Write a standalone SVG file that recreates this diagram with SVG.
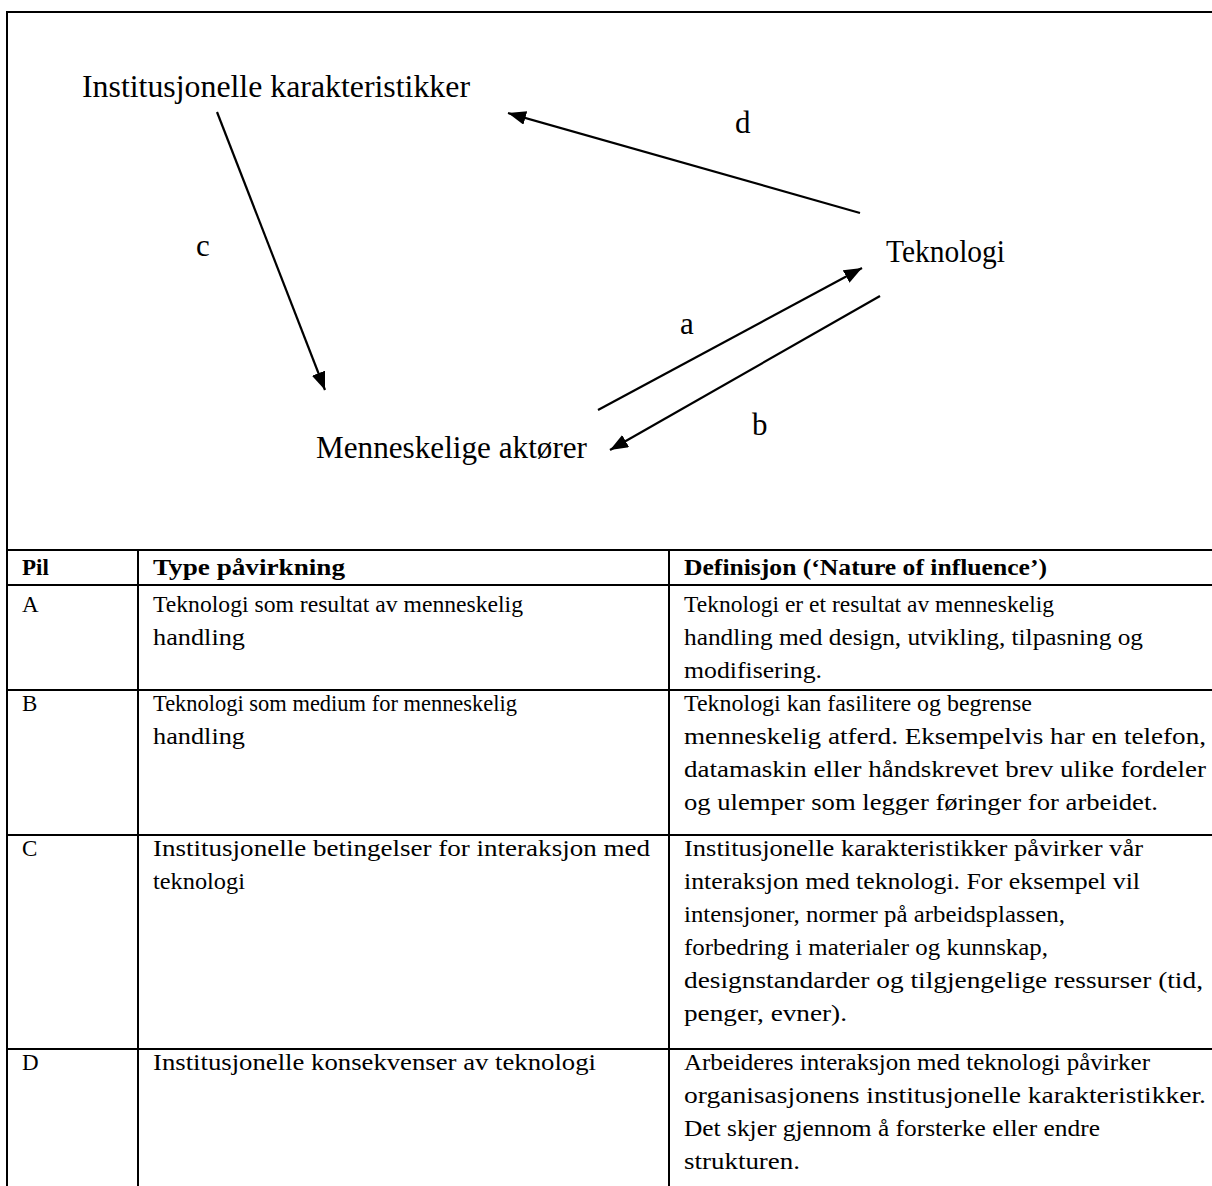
<svg xmlns="http://www.w3.org/2000/svg" width="1212" height="1186" viewBox="0 0 1212 1186">
<style>
.frame{stroke:#000;stroke-width:2;fill:none}
.grid{stroke:#000;stroke-width:2}
.lbl{font-family:"Liberation Serif","Times New Roman",serif;font-size:31px;fill:#000}
.ltr{font-family:"Liberation Serif","Times New Roman",serif;font-size:31px;fill:#000}
.cell{font-family:"Liberation Serif","Times New Roman",serif;font-size:23px;fill:#000}
.hd{font-weight:bold}
.conn{stroke:#000;stroke-width:2.2;fill:none;marker-end:url(#ah)}
</style>
<defs>
<marker id="ah" markerUnits="userSpaceOnUse" markerWidth="20" markerHeight="16" refX="18" refY="7" orient="auto">
<path d="M0,0 L18,7 L0,14 z" fill="#000"/>
</marker>
</defs>
<rect width="1212" height="1186" fill="#fff"/>
<path class="frame" d="M1212,12 H7 V1186"/>
<g id="node-institusjonelle"><text class="lbl" x="82" y="97" textLength="388" lengthAdjust="spacingAndGlyphs">Institusjonelle karakteristikker</text></g>
<g id="node-teknologi"><text class="lbl" x="886" y="262" textLength="119" lengthAdjust="spacingAndGlyphs">Teknologi</text></g>
<g id="node-menneskelige"><text class="lbl" x="316" y="458" textLength="271" lengthAdjust="spacingAndGlyphs">Menneskelige aktører</text></g>
<g id="connectors">
<line class="conn" x1="860" y1="213" x2="508" y2="113"/>
<line class="conn" x1="217" y1="112" x2="325" y2="390"/>
<line class="conn" x1="598" y1="410" x2="862" y2="268"/>
<line class="conn" x1="880" y1="296" x2="610" y2="450"/>
<text class="ltr" x="735" y="133">d</text>
<text class="ltr" x="196" y="256">c</text>
<text class="ltr" x="680" y="334">a</text>
<text class="ltr" x="752" y="435">b</text>
</g>
<g id="table">
<g class="grid">
<line x1="7" y1="550" x2="1212" y2="550"/>
<line x1="7" y1="585" x2="1212" y2="585"/>
<line x1="7" y1="690" x2="1212" y2="690"/>
<line x1="7" y1="835" x2="1212" y2="835"/>
<line x1="7" y1="1049" x2="1212" y2="1049"/>
<line x1="138" y1="550" x2="138" y2="1186"/>
<line x1="669" y1="550" x2="669" y2="1186"/>
</g>
<g class="cell">
<text class="hd" x="22" y="575">Pil</text>
<text class="hd" x="153" y="575" textLength="192" lengthAdjust="spacingAndGlyphs">Type påvirkning</text>
<text class="hd" x="684" y="575" textLength="363" lengthAdjust="spacingAndGlyphs">Definisjon (‘Nature of influence’)</text>
<text x="22" y="612">A</text>
<text x="153" y="612" textLength="370" lengthAdjust="spacingAndGlyphs">Teknologi som resultat av menneskelig</text>
<text x="153" y="645" textLength="92" lengthAdjust="spacingAndGlyphs">handling</text>
<text x="684" y="612" textLength="370" lengthAdjust="spacingAndGlyphs">Teknologi er et resultat av menneskelig</text>
<text x="684" y="645" textLength="459" lengthAdjust="spacingAndGlyphs">handling med design, utvikling, tilpasning og</text>
<text x="684" y="678" textLength="138" lengthAdjust="spacingAndGlyphs">modifisering.</text>
<text x="22" y="711">B</text>
<text x="153" y="711" textLength="364" lengthAdjust="spacingAndGlyphs">Teknologi som medium for menneskelig</text>
<text x="153" y="744" textLength="92" lengthAdjust="spacingAndGlyphs">handling</text>
<text x="684" y="711" textLength="348" lengthAdjust="spacingAndGlyphs">Teknologi kan fasilitere og begrense</text>
<text x="684" y="744" textLength="522" lengthAdjust="spacingAndGlyphs">menneskelig atferd. Eksempelvis har en telefon,</text>
<text x="684" y="777" textLength="522" lengthAdjust="spacingAndGlyphs">datamaskin eller håndskrevet brev ulike fordeler</text>
<text x="684" y="810" textLength="474" lengthAdjust="spacingAndGlyphs">og ulemper som legger føringer for arbeidet.</text>
<text x="22" y="856">C</text>
<text x="153" y="856" textLength="497" lengthAdjust="spacingAndGlyphs">Institusjonelle betingelser for interaksjon med</text>
<text x="153" y="889" textLength="92" lengthAdjust="spacingAndGlyphs">teknologi</text>
<text x="684" y="856" textLength="459" lengthAdjust="spacingAndGlyphs">Institusjonelle karakteristikker påvirker vår</text>
<text x="684" y="889" textLength="456" lengthAdjust="spacingAndGlyphs">interaksjon med teknologi. For eksempel vil</text>
<text x="684" y="922" textLength="381" lengthAdjust="spacingAndGlyphs">intensjoner, normer på arbeidsplassen,</text>
<text x="684" y="955" textLength="364" lengthAdjust="spacingAndGlyphs">forbedring i materialer og kunnskap,</text>
<text x="684" y="988" textLength="519" lengthAdjust="spacingAndGlyphs">designstandarder og tilgjengelige ressurser (tid,</text>
<text x="684" y="1021" textLength="163" lengthAdjust="spacingAndGlyphs">penger, evner).</text>
<text x="22" y="1070">D</text>
<text x="153" y="1070" textLength="443" lengthAdjust="spacingAndGlyphs">Institusjonelle konsekvenser av teknologi</text>
<text x="684" y="1070" textLength="466" lengthAdjust="spacingAndGlyphs">Arbeideres interaksjon med teknologi påvirker</text>
<text x="684" y="1103" textLength="522" lengthAdjust="spacingAndGlyphs">organisasjonens institusjonelle karakteristikker.</text>
<text x="684" y="1136" textLength="416" lengthAdjust="spacingAndGlyphs">Det skjer gjennom å forsterke eller endre</text>
<text x="684" y="1169" textLength="116" lengthAdjust="spacingAndGlyphs">strukturen.</text>
</g>
</g>
</svg>
